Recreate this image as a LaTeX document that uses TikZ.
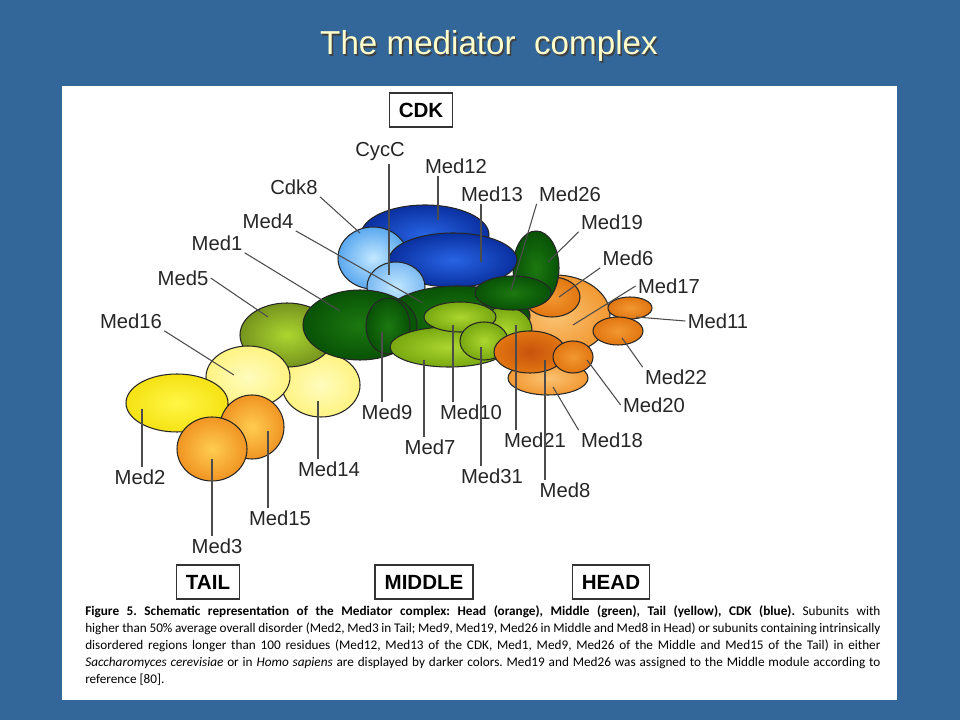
\documentclass[tikz,border=0pt]{standalone}
\usepackage{fontspec}
\setmainfont{Liberation Sans}
\newfontfamily\capfont{Carlito}

\definecolor{slide}{RGB}{51,102,153}
\definecolor{titleyellow}{RGB}{255,255,204}
% tail
\definecolor{yelpale}{RGB}{255,252,190}
\definecolor{yelmid}{RGB}{255,243,130}
\definecolor{yelbright}{RGB}{255,246,70}
\definecolor{yeldeep}{RGB}{245,226,20}
\definecolor{tailorl}{RGB}{255,205,80}
\definecolor{tailord}{RGB}{240,148,35}
% middle
\definecolor{limel}{RGB}{172,214,48}
\definecolor{limed}{RGB}{120,168,16}
\definecolor{olived}{RGB}{118,148,30}
\definecolor{greenl}{RGB}{28,120,16}
\definecolor{greend}{RGB}{8,82,6}
% cdk
\definecolor{bluel}{RGB}{40,100,228}
\definecolor{blued}{RGB}{10,48,160}
\definecolor{skyl}{RGB}{195,232,255}
\definecolor{skyd}{RGB}{90,168,240}
% head
\definecolor{orpale}{RGB}{250,195,115}
\definecolor{ormid}{RGB}{242,152,50}
\definecolor{ordeep}{RGB}{226,118,16}
\definecolor{ordark}{RGB}{200,82,14}

\begin{document}
\begin{tikzpicture}[x=0.025cm,y=-0.025cm,
    sub/.style={draw=black!85, line width=0.75pt},
    lab/.style={font=\fontsize{14.4}{16}\selectfont, text=black!85, inner sep=1.5pt},
    leader/.style={draw=black!70, line width=0.75pt},
    module/.style={draw=black!80, line width=0.9pt, fill=white,
      font=\bfseries\fontsize{14.6}{16}\selectfont, inner xsep=0.24cm,
      minimum height=0.85cm}]

  \useasboundingbox (0,0) rectangle (960,720);
  \fill[slide] (0,0) rectangle (960,720);
  \fill[white] (62,86) rectangle (897,700);

  % title
  \node[font=\fontsize{23.6}{26}\selectfont, text=black!75] at (490.5,47.5) {The mediator\ \ complex};
  \node (title) [font=\fontsize{23.6}{26}\selectfont, text=titleyellow] at (489,46) {The mediator\ \ complex};

  % tail
  \shadedraw[sub, inner color=yelpale, outer color=yelmid] (321,385) ellipse [x radius=39, y radius=32];
  \shadedraw[sub, inner color=limel, outer color=olived] (287,335) ellipse [x radius=47, y radius=32];
  \shadedraw[sub, inner color=yelpale, outer color=yelmid] (248,377) ellipse [x radius=42, y radius=31];
  \shadedraw[sub, inner color=yelbright, outer color=yeldeep] (177,403) ellipse [x radius=51, y radius=29];
  \shadedraw[sub, inner color=tailorl, outer color=tailord] (252,427) ellipse [x radius=32, y radius=32];
  \shadedraw[sub, inner color=tailorl, outer color=tailord] (212,449) ellipse [x radius=35, y radius=32];

  % head, back
  \shadedraw[sub, inner color=orpale, outer color=ormid] (548,378) ellipse [x radius=40, y radius=17];
  \shadedraw[sub, inner color=orpale, outer color=ormid] (555,315) ellipse [x radius=55, y radius=40];
  \shadedraw[sub, inner color=ormid, outer color=ordeep] (552,297) ellipse [x radius=28, y radius=20];

  % cdk
  \shadedraw[sub, inner color=greenl, outer color=greend] (536,268) ellipse [x radius=23, y radius=37];
  \shadedraw[sub, inner color=bluel, outer color=blued] (425,235) ellipse [x radius=64, y radius=30];
  \shadedraw[sub, inner color=skyl, outer color=skyd] (373,258) ellipse [x radius=35, y radius=31];
  \shadedraw[sub, inner color=bluel, outer color=blued] (453,260) ellipse [x radius=64, y radius=27];
  \shadedraw[sub, inner color=skyl, outer color=skyd!80] (396,287) ellipse [x radius=29, y radius=25];

  % middle
  \shadedraw[sub, inner color=greenl, outer color=greend] (458,316) ellipse [x radius=72, y radius=30];
  \shadedraw[sub, inner color=greenl, outer color=greend] (360,325) ellipse [x radius=57, y radius=35];
  \shadedraw[sub, inner color=greenl, outer color=greend] (388,326) ellipse [x radius=22, y radius=28];
  \shadedraw[sub, inner color=limel, outer color=limed] (505,330) ellipse [x radius=27, y radius=23];
  \shadedraw[sub, inner color=limel, outer color=limed] (449,347) ellipse [x radius=59, y radius=20];
  \shadedraw[sub, inner color=limel, outer color=limed] (460,317) ellipse [x radius=36, y radius=15];
  \shadedraw[sub, inner color=limel, outer color=limed] (484,341) ellipse [x radius=24, y radius=19];

  % head, front
  \shadedraw[sub, inner color=ordark, outer color=ordeep] (530,352) ellipse [x radius=36, y radius=21];
  \shadedraw[sub, inner color=ormid, outer color=ordeep] (573,357) ellipse [x radius=20, y radius=16];
  \shadedraw[sub, inner color=ormid, outer color=ordeep] (630,308) ellipse [x radius=22, y radius=11];
  \shadedraw[sub, inner color=ormid, outer color=ordeep] (618,331) ellipse [x radius=25, y radius=14];

  \shadedraw[sub, inner color=greenl, outer color=greend] (513,293) ellipse [x radius=38, y radius=17];

  % points the leaders end at
  \coordinate (pCycC) at (389,275);
  \coordinate (p12) at (438,220);
  \coordinate (p13) at (481,262);
  \coordinate (pCdk8) at (360,233);
  \coordinate (p26) at (511,290);
  \coordinate (p19) at (548,262);
  \coordinate (p6) at (559,297);
  \coordinate (p17) at (573,325);
  \coordinate (p11) at (636,317);
  \coordinate (p22) at (622,338);
  \coordinate (p20) at (587,360);
  \coordinate (p18) at (553,387);
  \coordinate (p8) at (545,360);
  \coordinate (p21) at (516,325);
  \coordinate (p31) at (481,347);
  \coordinate (p7) at (424,360);
  \coordinate (p10) at (453,325);
  \coordinate (p9) at (382,332);
  \coordinate (p4) at (423,303);
  \coordinate (p1) at (340,311);
  \coordinate (p5) at (268,317);
  \coordinate (p16) at (234,375);
  \coordinate (p14) at (318,401);
  \coordinate (p15) at (268,431);
  \coordinate (p3) at (212,459);
  \coordinate (p2) at (142,409);

  % labels
  \begin{scope}[every node/.style={lab}]
    \node (lCycC) at (380,152) {CycC};
    \node (l12) at (456,166) {Med12};
    \node (l13) at (492,194) {Med13};
    \node (lCdk8) at (294,187) {Cdk8};
    \node (l26) at (570,194) {Med26};
    \node (l19) at (612,222) {Med19};
    \node (l6) at (628,258) {Med6};
    \node (l17) at (669,286) {Med17};
    \node (l11) at (718,321) {Med11};
    \node (l22) at (676,377) {Med22};
    \node (l20) at (654,405) {Med20};
    \node (l18) at (612,440) {Med18};
    \node (l8) at (565,490) {Med8};
    \node (l21) at (535,440) {Med21};
    \node (l31) at (492,476) {Med31};
    \node (l7) at (430,447) {Med7};
    \node (l10) at (471,412) {Med10};
    \node (l9) at (387,412) {Med9};
    \node (l4) at (268,221) {Med4};
    \node (l1) at (217,243) {Med1};
    \node (l5) at (183,278) {Med5};
    \node (l16) at (131,321) {Med16};
    \node (l14) at (329,469) {Med14};
    \node (l15) at (280,518) {Med15};
    \node (l3) at (217,546) {Med3};
    \node (l2) at (140,477) {Med2};
  \end{scope}

  % leaders
  \begin{scope}[every path/.style={leader}]
    \path (pCycC) -- (pCycC |- lCycC.south);
    \path (p12) -- (p12 |- l12.south);
    \path (p13) -- (p13 |- l13.south);
    \path (lCdk8.south east) -- (pCdk8);
    \path (l26.south west) -- (p26);
    \path (l19.south west) -- (p19);
    \path (l6.south west) -- (p6);
    \path (l17.west) -- (p17);
    \path (l11.west) -- (p11);
    \path (l22.north west) -- (p22);
    \path (l20.west) -- (p20);
    \path (l18.north west) -- (p18);
    \path (p8) -- (p8 |- l8.north);
    \path (p21) -- (p21 |- l21.north);
    \path (p31) -- (p31 |- l31.north);
    \path (p7) -- (p7 |- l7.north);
    \path (p10) -- (p10 |- l10.north);
    \path (p9) -- (p9 |- l9.north);
    \path (l4.south east) -- (p4);
    \path (l1.south east) -- (p1);
    \path (l5.east) -- (p5);
    \path (l16.south east) -- (p16);
    \path (p14) -- (p14 |- l14.north);
    \path (p15) -- (p15 |- l15.north);
    \path (p3) -- (p3 |- l3.north);
    \path (p2) -- (p2 |- l2.north);
  \end{scope}

  % modules
  \node[module] (cdk) at (421,110) {CDK};
  \node[module] (tail) at (208,582) {TAIL};
  \node[module] (middle) at (424,582) {MIDDLE};
  \node[module] (head) at (611,582) {HEAD};

  \node[anchor=north west, inner sep=0pt, text width=19.875cm, align=justify,
    font=\capfont\fontsize{9.4}{12.1}\selectfont\frenchspacing] (caption) at (85,605)
    {\textbf{Figure 5. Schematic representation of the Mediator complex: Head (orange), Middle (green), Tail (yellow), CDK (blue).} Subunits with\linebreak
    higher than 50\% average overall disorder (Med2, Med3 in Tail; Med9, Med19, Med26 in Middle and Med8 in Head) or subunits containing intrinsically\linebreak
    disordered regions longer than 100 residues (Med12, Med13 of the CDK, Med1, Med9, Med26 of the Middle and Med15 of the Tail) in either\linebreak
    \textit{Saccharomyces cerevisiae} or in \textit{Homo sapiens} are displayed by darker colors. Med19 and Med26 was assigned to the Middle module according to\linebreak
    reference [80].};
\end{tikzpicture}
\end{document}
